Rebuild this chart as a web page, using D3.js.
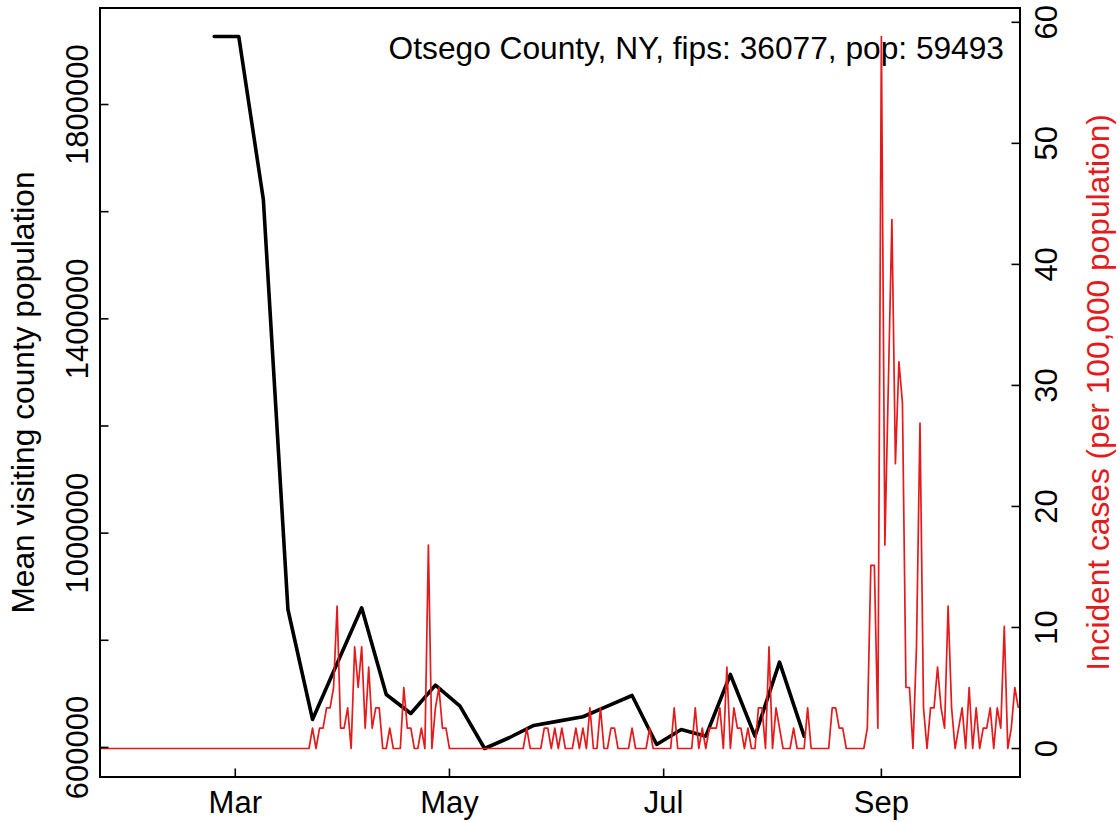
<!DOCTYPE html>
<html><head><meta charset="utf-8">
<script src="https://cdn.jsdelivr.net/npm/d3@7"></script>
<style>
body{margin:0;background:#fff;}
svg{display:block;font-family:"Liberation Sans",Arial,Helvetica,sans-serif;}
</style></head><body>
<svg id="chart" width="1119" height="822"></svg>
<script>
// ---------------- data ----------------
const titleText = "Otsego County, NY, fips: 36077, pop: 59493";
const leftAxisTitle = "Mean visiting county population";
const rightAxisTitle = "Incident cases (per 100,000 population)";

// daily incident cases per 100,000, starting 2020-01-22
const caseStartDate = "2020-01-22";
const incidentRate = [
  0,0,0,0,0,0,0,0,0,0,
  0,0,0,0,0,0,0,0,0,0,
  0,0,0,0,0,0,0,0,0,0,
  0,0,0,0,0,0,0,0,0,0,
  0,0,0,0,0,0,0,0,0,0,
  0,0,0,0,0,0,0,0,0,0,
  0,1.68,0,1.68,1.68,3.36,3.36,5.04,11.77,1.68,
  1.68,3.36,0,8.40,5.04,8.40,1.68,6.72,1.68,3.36,
  3.36,0,0,1.68,0,0,0,5.04,1.68,1.68,
  0,0,1.68,0,16.81,0,3.36,5.04,1.68,1.68,
  0,0,0,0,0,0,0,0,0,0,
  0,0,0,0,0,0,0,0,0,0,
  0,0,1.68,0,0,0,0,1.68,1.68,0,
  1.68,0,1.68,0,0,0,1.68,0,1.68,0,
  3.36,0,0,3.36,0,0,1.68,1.68,0,0,
  0,0,1.68,0,0,0,0,1.68,0,0,
  0,0,0,0,3.36,0,0,0,0,0,
  3.36,0,1.68,0,1.68,1.68,1.68,3.36,0,6.72,
  0,3.36,1.68,1.68,0,1.68,0,0,3.36,3.36,
  0,8.40,0,3.36,1.68,0,0,0,1.68,0,
  0,0,3.36,0,0,0,0,0,0,3.36,
  3.36,1.68,1.68,0,0,0,0,0,0,1.68,
  15.13,15.13,1.68,58.83,16.81,30.26,43.70,23.53,31.94,28.57,
  5.04,5.04,0,8.40,26.89,3.36,0,3.36,3.36,6.72,
  3.36,1.68,11.77,3.36,0,1.68,3.36,0,5.04,0,
  3.36,0,1.68,1.68,3.36,0,3.36,1.68,10.09,0,
  1.68,5.04,3.36
];

// weekly mean visiting county population
const visitDates = ["2020-02-24","2020-03-02","2020-03-09","2020-03-16","2020-03-23",
  "2020-03-30","2020-04-06","2020-04-13","2020-04-20","2020-04-27","2020-05-04",
  "2020-05-11","2020-05-18","2020-05-25","2020-06-01","2020-06-08","2020-06-15",
  "2020-06-22","2020-06-29","2020-07-06","2020-07-13","2020-07-20","2020-07-27",
  "2020-08-03","2020-08-10"];
const visitingPop = [1927000,1927000,1622700,857500,652300,
  756800,860700,698900,663400,716300,677100,
  598000,618100,641100,649100,657300,677100,
  697000,605600,633600,621100,736200,621100,
  759200,621100];

const monthTicks = ["2020-03-01","2020-05-01","2020-07-01","2020-09-01"];
const monthTickLabels = ["Mar","May","Jul","Sep"];
const leftTicks = [600000,800000,1000000,1200000,1400000,1600000,1800000];
const leftTickLabels = ["600000","","1000000","","1400000","","1800000"];
const rightTicks = [0,10,20,30,40,50,60];
const rightTickLabels = ["0","10","20","30","40","50","60"];

// ---------------- layout ----------------
const L = 100, R = 1020, T = 8, B = 777;
const RED = "#e41a1c";
const FS = 31, FT = 31.7;
const svg = d3.select("#chart");

const parse = d3.utcParse("%Y-%m-%d");
const start = parse(caseStartDate);
const caseData = incidentRate.map((v,i)=>({date:d3.utcDay.offset(start,i), v}));
const visitData = visitDates.map((d,i)=>({date:parse(d), v:visitingPop[i]}));

const x = d3.scaleUtc()
  .domain([new Date(Date.UTC(2020,0,22,11,30)), new Date(Date.UTC(2020,9,10,11,30))])
  .range([L,R]);
const pad = ([a,b]) => [a-(b-a)*0.04, b+(b-a)*0.04];
const yL = d3.scaleLinear().domain(pad(d3.extent(visitingPop))).range([B,T]);
const yR = d3.scaleLinear().domain(pad([0, d3.max(incidentRate)])).range([B,T]);
const midY = (T+B)/2;

svg.append("defs").append("clipPath").attr("id","clip")
  .append("rect").attr("x",L).attr("y",T).attr("width",R-L).attr("height",B-T);

// black line
svg.append("path").datum(visitData)
  .attr("clip-path","url(#clip)")
  .attr("fill","none").attr("stroke","#000").attr("stroke-width",3.6)
  .attr("stroke-linejoin","round").attr("stroke-linecap","round")
  .attr("d", d3.line().x(d=>x(d.date)).y(d=>yL(d.v)));

// title
svg.append("text").attr("x",1004).attr("y",59).attr("text-anchor","end")
  .attr("font-size",FT).attr("fill","#000").text(titleText);

// red line
svg.append("path").datum(caseData)
  .attr("clip-path","url(#clip)")
  .attr("fill","none").attr("stroke",RED).attr("stroke-width",1.7)
  .attr("stroke-linejoin","round")
  .attr("d", d3.line().x(d=>x(d.date)).y(d=>yR(d.v)));

// frame
svg.append("rect").attr("x",L).attr("y",T).attr("width",R-L).attr("height",B-T)
  .attr("fill","none").attr("stroke","#000").attr("stroke-width",2);

const TK = 8.5;
// bottom axis
const bottom = svg.append("g");
monthTicks.forEach((m,i)=>{
  const xx = x(parse(m));
  bottom.append("line").attr("x1",xx).attr("x2",xx).attr("y1",B).attr("y2",B-TK)
    .attr("stroke","#000").attr("stroke-width",1.6);
  bottom.append("text").attr("x",xx).attr("y",813).attr("text-anchor","middle")
    .attr("font-size",FS).text(monthTickLabels[i]);
});
// left axis
const left = svg.append("g");
leftTicks.forEach((t,i)=>{
  const yy = yL(t);
  left.append("line").attr("x1",L).attr("x2",L+TK).attr("y1",yy).attr("y2",yy)
    .attr("stroke","#000").attr("stroke-width",1.6);
  if (leftTickLabels[i]) left.append("text")
    .attr("transform",`translate(88,${yy}) rotate(-90)`)
    .attr("text-anchor","middle").attr("font-size",FS).text(leftTickLabels[i]);
});
// right axis
const right = svg.append("g");
rightTicks.forEach((t,i)=>{
  const yy = yR(t);
  right.append("line").attr("x1",R).attr("x2",R-TK).attr("y1",yy).attr("y2",yy)
    .attr("stroke","#000").attr("stroke-width",1.6);
  right.append("text")
    .attr("transform",`translate(1057,${yy}) rotate(-90)`)
    .attr("text-anchor","middle").attr("font-size",FS).text(rightTickLabels[i]);
});
// axis titles
svg.append("text").attr("transform",`translate(33.5,${midY}) rotate(-90)`)
  .attr("text-anchor","middle").attr("font-size",FT).attr("fill","#000").text(leftAxisTitle);
svg.append("text").attr("transform",`translate(1109,${midY}) rotate(-90)`)
  .attr("text-anchor","middle").attr("font-size",FT).attr("fill",RED).text(rightAxisTitle);
</script>
</body></html>
